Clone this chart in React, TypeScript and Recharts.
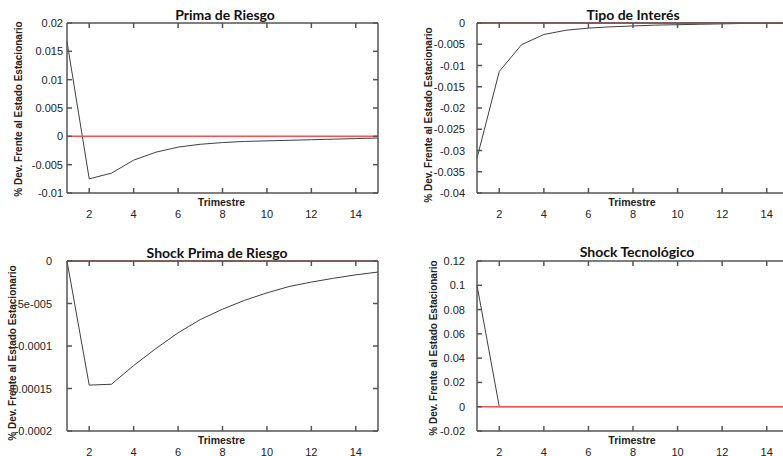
import React from 'react';
import { LineChart, Line, XAxis, YAxis, ReferenceLine } from 'recharts';

const quarters = [1, 2, 3, 4, 5, 6, 7, 8, 9, 10, 11, 12, 13, 14, 15];
const quarterTicks = [2, 4, 6, 8, 10, 12, 14];

const primaRiesgo = [0.0167, -0.0075, -0.0065, -0.0042, -0.0028, -0.0019, -0.0014, -0.0011, -0.0009, -0.0008, -0.0007, -0.0006, -0.0005, -0.0004, -0.0003];
const tipoInteres = [-0.0318, -0.0114, -0.0051, -0.0027, -0.0017, -0.0012, -0.0009, -0.0007, -0.0005, -0.0004, -0.0003, -0.0002, -0.0001, -0.0001, -0.00005];
const shockPrima = [0, -0.000146, -0.000145, -0.000123, -0.000103, -0.0000845, -0.0000689, -0.0000567, -0.0000462, -0.0000375, -0.00003, -0.0000248, -0.0000203, -0.0000163, -0.000013];
const shockTec = [0.1, 0, 0, 0, 0, 0, 0, 0, 0, 0, 0, 0, 0, 0, 0];

const primaTicks = [0.02, 0.015, 0.01, 0.005, 0, -0.005, -0.01];
const primaLabels = ['0.02', '0.015', '0.01', '0.005', '0', '-0.005', '-0.01'];
const tipoTicks = [0, -0.005, -0.01, -0.015, -0.02, -0.025, -0.03, -0.035, -0.04];
const tipoLabels = ['0', '-0.005', '-0.01', '-0.015', '-0.02', '-0.025', '-0.03', '-0.035', '-0.04'];
const shockPrimaTicks = [0, -0.00005, -0.0001, -0.00015, -0.0002];
const shockPrimaLabels = ['0', '-5e-005', '-0.0001', '-0.00015', '-0.0002'];
const tecTicks = [0.12, 0.1, 0.08, 0.06, 0.04, 0.02, 0, -0.02];
const tecLabels = ['0.12', '0.1', '0.08', '0.06', '0.04', '0.02', '0', '-0.02'];

const yTitle = '% Dev. Frente al Estado Estacionario';
const xTitle = 'Trimestre';

const AXIS = '#555555';
const TEXT = '#222222';
const sans = { fontFamily: 'Liberation Sans, Arial, sans-serif' };

interface PanelProps {
  title: string;
  values: number[];
  yTicks: number[];
  yLabels: string[];
  left: number; top: number; width: number; height: number;
  box: { x: number; y: number; w: number; h: number };
  labelGap: number;
  titlePos: [number, number];
  yTitlePos: [number, number];
}

const Panel = (p: PanelProps) => {
  const data = quarters.map((q, i) => ({ q, v: p.values[i] }));
  // each axis takes 1px outside the plot box
  const margin = {
    left: p.box.x - p.left - 1,
    top: p.box.y - p.top - 1,
    right: p.left + p.width - (p.box.x + p.box.w) - 1,
    bottom: p.top + p.height - (p.box.y + p.box.h) - 1,
  };
  const fmt = (v: number) => {
    const i = p.yTicks.findIndex((t) => Math.abs(t - v) < 1e-12);
    return i >= 0 ? p.yLabels[i] : String(v);
  };
  const BottomTick = ({ x, y, payload }: any) => (
    <g>
      <line x1={x} x2={x} y1={y} y2={y - 5} stroke={AXIS} strokeWidth={1.5} />
      <text x={x} y={y + 20.5} textAnchor="middle" dominantBaseline="central" fontSize={11} fill={TEXT} style={sans}>{payload.value}</text>
    </g>
  );
  const TopTick = ({ x, y }: any) => <line x1={x} x2={x} y1={y} y2={y + 5} stroke={AXIS} strokeWidth={1.5} />;
  const LeftTick = ({ x, y, payload }: any) => (
    <g>
      <line x1={x} x2={x + 5} y1={y} y2={y} stroke={AXIS} strokeWidth={1.5} />
      <text x={x - p.labelGap} y={y} textAnchor="end" dominantBaseline="central" fontSize={11} fill={TEXT} style={sans}>{fmt(payload.value)}</text>
    </g>
  );
  const RightTick = ({ x, y }: any) => <line x1={x} x2={x - 5} y1={y} y2={y} stroke={AXIS} strokeWidth={1.5} />;
  const domain: [number, number] = [p.yTicks[p.yTicks.length - 1], p.yTicks[0]];
  const axisLine = { stroke: AXIS, strokeWidth: 1.5 };

  return (
    <div style={{ position: 'absolute', left: p.left, top: p.top, width: p.width, height: p.height }}>
      <LineChart width={p.width} height={p.height} data={data} margin={margin}>
        <XAxis xAxisId="b" dataKey="q" type="number" domain={[1, 15]} ticks={quarterTicks} interval={0}
          height={1} tickSize={0} tickMargin={0} tickLine={false} axisLine={axisLine} tick={<BottomTick />} />
        <XAxis xAxisId="t" orientation="top" dataKey="q" type="number" domain={[1, 15]} ticks={quarterTicks} interval={0}
          height={1} tickSize={0} tickMargin={0} tickLine={false} axisLine={axisLine} tick={<TopTick />} />
        <YAxis yAxisId="l" type="number" domain={domain} ticks={p.yTicks} interval={0} allowDataOverflow
          width={1} tickSize={0} tickMargin={0} tickLine={false} axisLine={axisLine} tick={<LeftTick />} />
        <YAxis yAxisId="r" orientation="right" type="number" domain={domain} ticks={p.yTicks} interval={0} allowDataOverflow
          width={1} tickSize={0} tickMargin={0} tickLine={false} axisLine={axisLine} tick={<RightTick />} />
        <Line xAxisId="b" yAxisId="l" dataKey="v" type="linear" stroke="#404040" strokeWidth={1} dot={false} isAnimationActive={false} />
        <ReferenceLine xAxisId="b" yAxisId="l" y={0} stroke="#ff5050" strokeWidth={1.5} />
      </LineChart>
      <svg width={p.width} height={p.height} style={{ position: 'absolute', left: 0, top: 0, pointerEvents: 'none' }}>
        <text x={p.titlePos[0] - p.left} y={p.titlePos[1] - p.top} textAnchor="middle" dominantBaseline="central"
          style={{ fontFamily: 'Lato, sans-serif' }} fontWeight="bold" fontSize={14} fill="#111">{p.title}</text>
        <text x={p.box.x + p.box.w / 2 - p.left - 1} y={p.box.y + p.box.h + 9 - p.top} textAnchor="middle" dominantBaseline="central"
          style={sans} fontWeight="bold" fontSize={10.5} fill={TEXT}>{xTitle}</text>
        <text x={0} y={0} transform={`translate(${p.yTitlePos[0] - p.left},${p.yTitlePos[1] - p.top}) rotate(-90)`}
          textAnchor="middle" dominantBaseline="central" style={sans} fontWeight="bold" fontSize={10} fill={TEXT}>{yTitle}</text>
      </svg>
    </div>
  );
};

export default function App() {
  return (
    <div style={{ position: 'absolute', left: 0, top: 0, width: 783, height: 456, overflow: 'hidden', background: '#fff' }}>
      <Panel title="Prima de Riesgo" values={primaRiesgo} yTicks={primaTicks} yLabels={primaLabels}
        left={0} top={0} width={390} height={230} box={{ x: 67, y: 23, w: 311, h: 170 }} labelGap={4}
        titlePos={[225, 14]} yTitlePos={[18, 109]} />
      <Panel title="Tipo de Interés" values={tipoInteres} yTicks={tipoTicks} yLabels={tipoLabels}
        left={390} top={0} width={410} height={230} box={{ x: 477, y: 23, w: 312, h: 170 }} labelGap={12}
        titlePos={[633, 14]} yTitlePos={[428, 115]} />
      <Panel title="Shock Prima de Riesgo" values={shockPrima} yTicks={shockPrimaTicks} yLabels={shockPrimaLabels}
        left={0} top={230} width={390} height={226} box={{ x: 67, y: 261, w: 311, h: 170 }} labelGap={15}
        titlePos={[217, 252]} yTitlePos={[12, 353]} />
      <Panel title="Shock Tecnológico" values={shockTec} yTicks={tecTicks} yLabels={tecLabels}
        left={390} top={230} width={410} height={226} box={{ x: 477, y: 261, w: 312, h: 170 }} labelGap={12}
        titlePos={[637, 251]} yTitlePos={[433, 348]} />
    </div>
  );
}
